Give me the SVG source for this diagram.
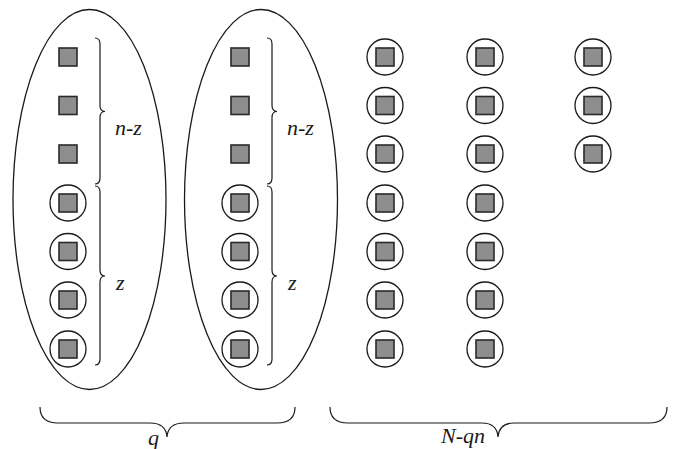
<svg xmlns="http://www.w3.org/2000/svg" width="674" height="449" viewBox="0 0 674 449">
  <defs>
    <style>
      .grp { fill: none; stroke: #1a1a1a; stroke-width: 1.3; }
      .ring { fill: none; stroke: #1a1a1a; stroke-width: 1.3; }
      .sq { fill: #8e8e8e; stroke: #2a2a2a; stroke-width: 1.6; }
      .brace { fill: none; stroke: #1a1a1a; stroke-width: 1.2; }
      text { fill: #1a1a1a; }
    </style>
    <rect id="sq" x="-9" y="-9" width="18" height="18" class="sq"/>
    <g id="ringed">
      <circle r="18" class="ring"/>
      <use href="#sq"/>
    </g>
  </defs>
  <rect width="674" height="449" fill="#ffffff"/>

  <!-- group 1 -->
  <g id="group1">
    <ellipse cx="89.5" cy="199.5" rx="76.5" ry="190" class="grp"/>
    <use href="#sq" x="68" y="57"/>
    <use href="#sq" x="68" y="105.5"/>
    <use href="#sq" x="68" y="154"/>
    <use href="#ringed" x="68" y="203"/>
    <use href="#ringed" x="68" y="251.5"/>
    <use href="#ringed" x="68" y="300"/>
    <use href="#ringed" x="68" y="349"/>
    <path class="brace" d="M95 38 Q100 38 100 44 L100 105.5 Q100 111.5 105 111.5 Q100 111.5 100 117.5 L100 178 Q100 184 95 184"/>
    <path class="brace" d="M95 186 Q100 186 100 192 L100 270 Q100 276 105 276 Q100 276 100 282 L100 359 Q100 365 95 365"/>
    <text x="115" y="135" font-family="Liberation Serif, Times New Roman, serif" font-style="italic" font-size="22">n-z</text>
    <text x="116" y="290" font-family="Liberation Serif, Times New Roman, serif" font-style="italic" font-size="22">z</text>
  </g>

  <!-- group 2 -->
  <g id="group2">
    <ellipse cx="261" cy="199.5" rx="76.5" ry="190" class="grp"/>
    <use href="#sq" x="240" y="57"/>
    <use href="#sq" x="240" y="105.5"/>
    <use href="#sq" x="240" y="154"/>
    <use href="#ringed" x="240" y="203"/>
    <use href="#ringed" x="240" y="251.5"/>
    <use href="#ringed" x="240" y="300"/>
    <use href="#ringed" x="240" y="349"/>
    <path class="brace" d="M267 38 Q272 38 272 44 L272 105.5 Q272 111.5 277 111.5 Q272 111.5 272 117.5 L272 178 Q272 184 267 184"/>
    <path class="brace" d="M267 186 Q272 186 272 192 L272 270 Q272 276 277 276 Q272 276 272 282 L272 359 Q272 365 267 365"/>
    <text x="287" y="135" font-family="Liberation Serif, Times New Roman, serif" font-style="italic" font-size="22">n-z</text>
    <text x="288" y="290" font-family="Liberation Serif, Times New Roman, serif" font-style="italic" font-size="22">z</text>
  </g>

  <!-- remaining items -->
  <g id="rest">
    <use href="#ringed" x="385" y="57"/>
    <use href="#ringed" x="385" y="105.5"/>
    <use href="#ringed" x="385" y="154"/>
    <use href="#ringed" x="385" y="203"/>
    <use href="#ringed" x="385" y="251.5"/>
    <use href="#ringed" x="385" y="300"/>
    <use href="#ringed" x="385" y="349"/>
    <use href="#ringed" x="485" y="57"/>
    <use href="#ringed" x="485" y="105.5"/>
    <use href="#ringed" x="485" y="154"/>
    <use href="#ringed" x="485" y="203"/>
    <use href="#ringed" x="485" y="251.5"/>
    <use href="#ringed" x="485" y="300"/>
    <use href="#ringed" x="485" y="349"/>
    <use href="#ringed" x="593" y="57"/>
    <use href="#ringed" x="593" y="105.5"/>
    <use href="#ringed" x="593" y="154"/>
  </g>

  <!-- bottom braces -->
  <g id="brace-q">
    <path class="brace" d="M40 407 Q40 423 58 423 L150 423 Q166 423 167 437 Q168 423 184 423 L277 423 Q295 423 295 407"/>
    <text x="148" y="445" font-family="Liberation Serif, Times New Roman, serif" font-style="italic" font-size="22">q</text>
  </g>
  <g id="brace-nqn">
    <path class="brace" d="M330 407 Q330 423 348 423 L482 423 Q497 423 498 437 Q499 423 514 423 L649 423 Q667 423 667 407"/>
    <text x="441" y="443" font-family="Liberation Serif, Times New Roman, serif" font-style="italic" font-size="22">N-qn</text>
  </g>
</svg>
